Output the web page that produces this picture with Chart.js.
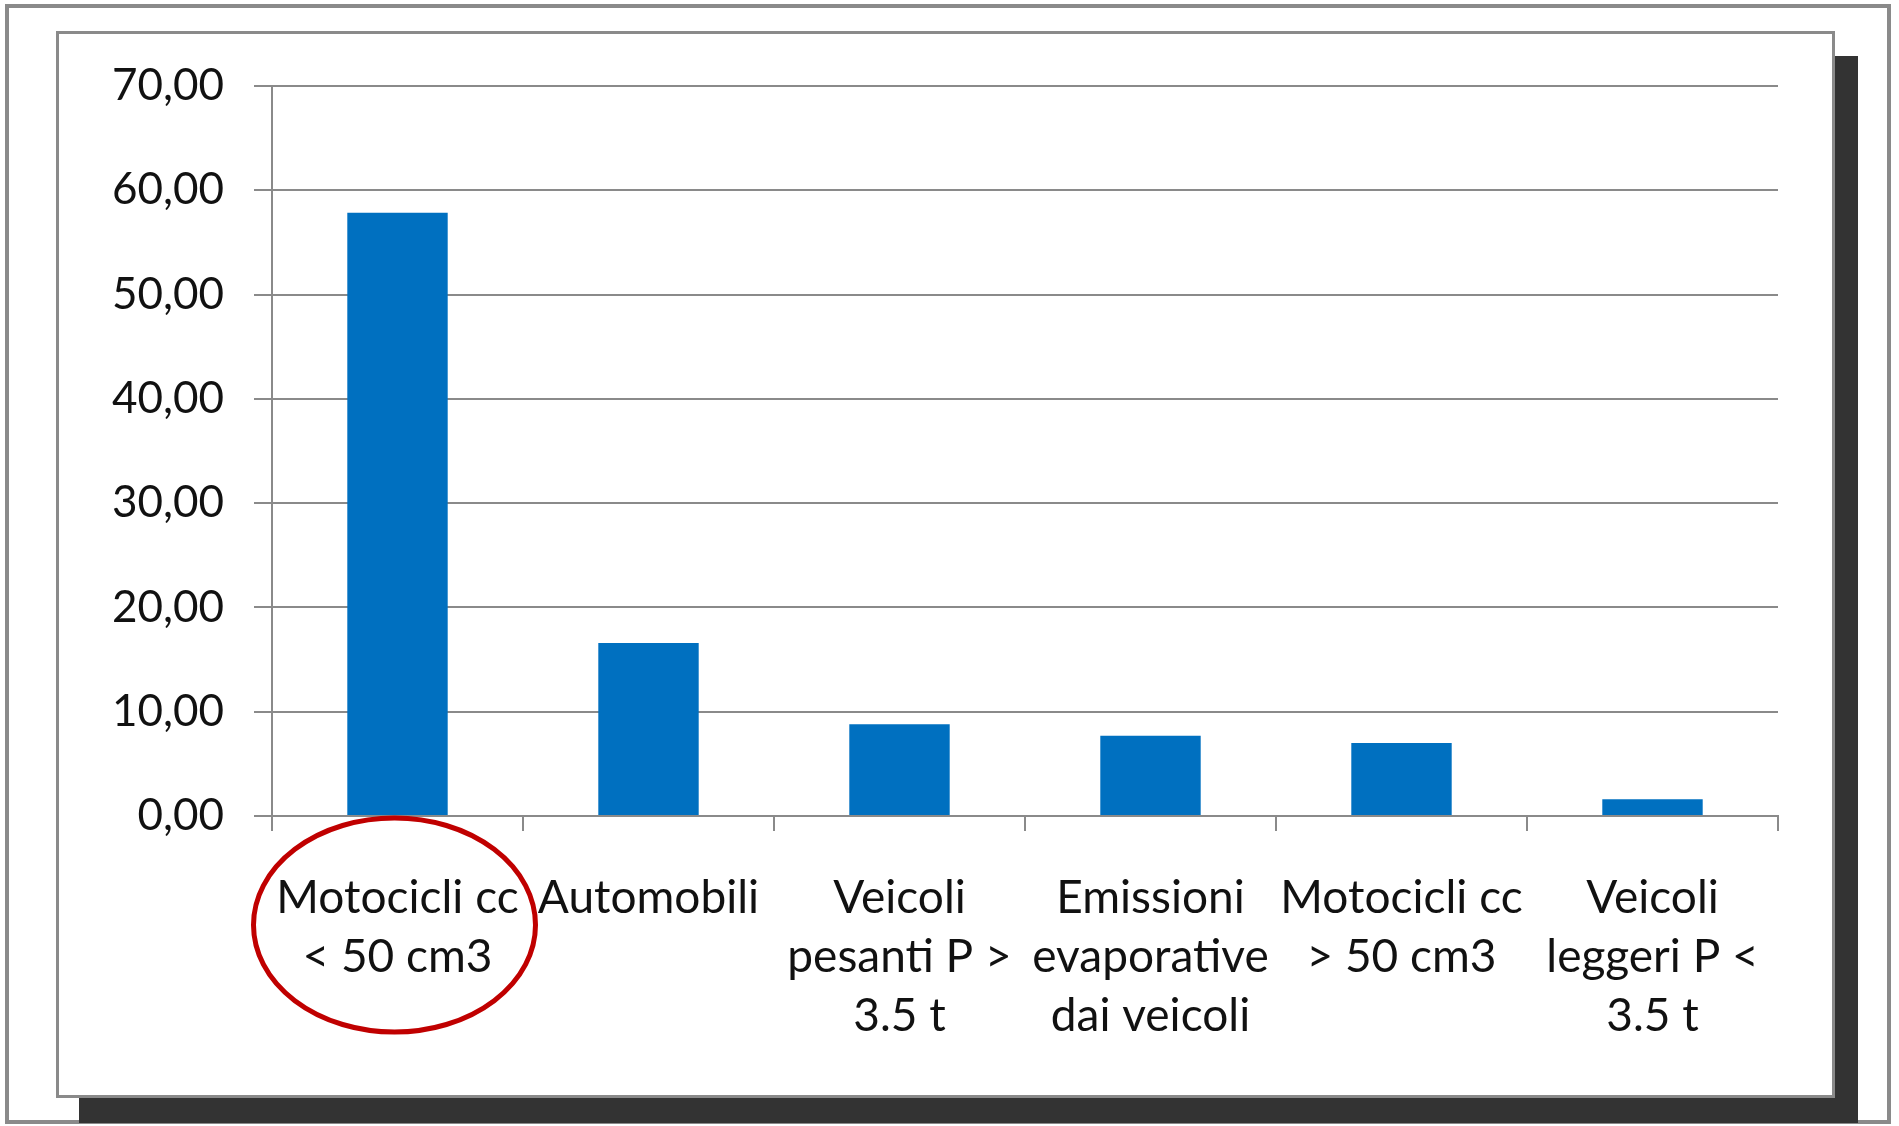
<!DOCTYPE html>
<html>
<head>
<meta charset="utf-8">
<script src="https://cdn.jsdelivr.net/npm/chart.js@4"></script>
<style>
  html, body { margin: 0; padding: 0; background: #fff; }
  #outer {
    position: absolute; left: 5px; top: 4px;
    width: 1886px; height: 1120px;
    border: 4px solid #8a8a8a; box-sizing: border-box;
  }
  #box {
    position: absolute; left: 56px; top: 31px;
    width: 1779px; height: 1067px;
    border: 3px solid #8a8a8a; box-sizing: border-box;
    background: #fff;
    box-shadow: 23px 25px 0 0 #333;
  }
  #box canvas { display: block; }
</style>
</head>
<body>
<div id="outer"></div>
<div id="box"><canvas id="myChart" width="1773" height="1061"></canvas></div>
<script>
// DATA
const categories = [
  ["Motocicli cc", "< 50 cm3"],
  ["Automobili"],
  ["Veicoli", "pesanti P >", "3.5 t"],
  ["Emissioni", "evaporative", "dai veicoli"],
  ["Motocicli cc", "> 50 cm3"],
  ["Veicoli", "leggeri P <", "3.5 t"]
];
const values = [57.85, 16.6, 8.8, 7.7, 7.0, 1.6];
const yTickValues = [0, 10, 20, 30, 40, 50, 60, 70];

const font = "Lato, 'Open Sans', sans-serif";

// red ring around the first category label
const ringPlugin = {
  id: "ring",
  afterDraw(chart) {
    const ctx = chart.ctx;
    const x = chart.scales.x;
    const cx = x.getPixelForValue(0) - 3;
    const cy = chart.chartArea.bottom + 109;
    ctx.save();
    ctx.beginPath();
    ctx.ellipse(cx, cy, 141, 107, 0, 0, Math.PI * 2);
    ctx.lineWidth = 5;
    ctx.strokeStyle = "#c00000";
    ctx.stroke();
    ctx.restore();
  }
};

window.onload = () => {
  const ctx = document.getElementById("myChart").getContext("2d");
  new Chart(ctx, {
    type: "bar",
    data: {
      labels: categories,
      datasets: [{
        data: values,
        backgroundColor: "#0070c0",
        borderWidth: 0,
        barPercentage: 0.4,
        categoryPercentage: 1
      }]
    },
    options: {
      responsive: false,
      animation: false,
      layout: { padding: { top: 52, right: 54, left: 0, bottom: 0 } },
      plugins: { legend: { display: false }, tooltip: { enabled: false } },
      scales: {
        y: {
          min: 0,
          max: 70,
          afterFit: (s) => {
            s.width = 213;
            s.paddingTop = 20;
            s.paddingBottom = 20;
          },
          afterBuildTicks: (s) => { s.ticks = yTickValues.map((v) => ({ value: v })); },
          ticks: {
            color: "#111",
            font: { family: font, size: 44 },
            padding: 30,
            callback: (v) => v.toFixed(2).replace(".", ",")
          },
          grid: { color: "#8a8a8a", lineWidth: 2, tickLength: 18 },
          border: { color: "#8a8a8a", width: 2 }
        },
        x: {
          afterFit: (s) => { s.height = 279; },
          ticks: {
            color: "#111",
            font: { family: font, size: 46, lineHeight: 1.28 },
            padding: 38,
            autoSkip: false,
            maxRotation: 0
          },
          grid: {
            drawOnChartArea: false,
            color: "#8a8a8a",
            lineWidth: 2,
            tickLength: 15
          },
          border: { color: "#8a8a8a", width: 2 }
        }
      }
    },
    plugins: [ringPlugin]
  });
};
</script>
</body>
</html>
